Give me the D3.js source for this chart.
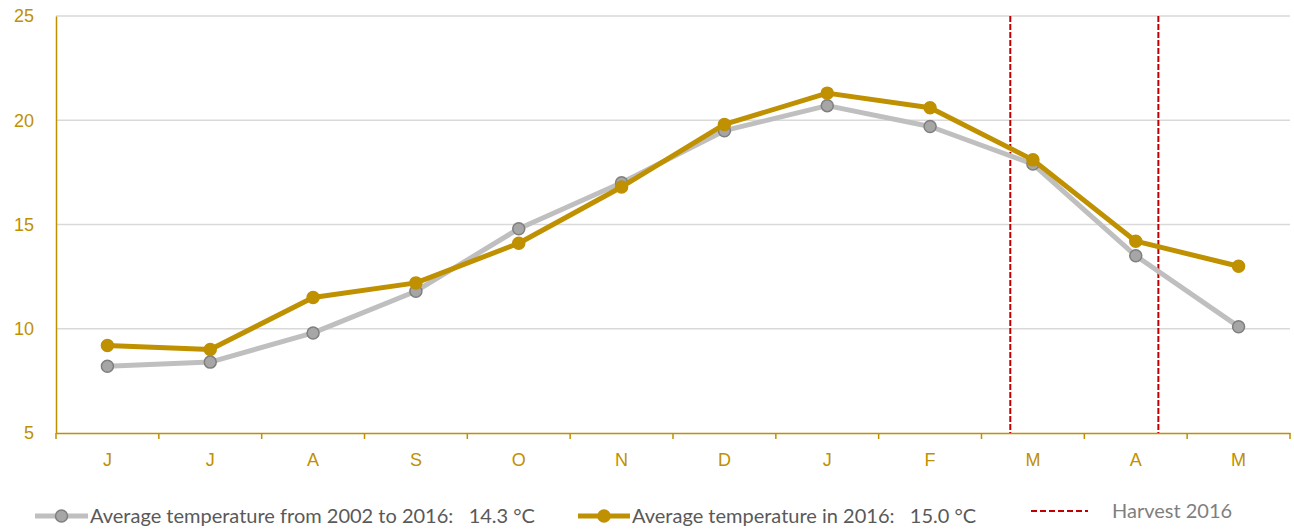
<!DOCTYPE html>
<html>
<head>
<meta charset="utf-8">
<script src="https://cdn.jsdelivr.net/npm/d3@7"></script>
<style>
  body { margin: 0; background: #fff; }
  svg { font-family: Lato, "Open Sans", sans-serif; }
</style>
</head>
<body>
<svg id="chart" width="1294" height="529"></svg>
<script>
// month labels, June 2015 to May 2016
const months = ['J', 'J', 'A', 'S', 'O', 'N', 'D', 'J', 'F', 'M', 'A', 'M'];
// monthly average temperatures (°C)
const avgLongTerm = [8.2, 8.4, 9.8, 11.8, 14.8, 17.0, 19.5, 20.7, 19.7, 17.9, 13.5, 10.1];
const avg2016 = [9.2, 9.0, 11.5, 12.2, 14.1, 16.8, 19.8, 21.3, 20.6, 18.1, 14.2, 13.0];
// harvest window, in month units from the start of the axis
const harvest = [9.28, 10.72];
const yTicks = [5, 10, 15, 20, 25];

const gold = '#BF9000';
const svg = d3.select('#chart');
const plotL = 56, plotR = 1290, plotT = 16, plotB = 433;

const x = d3.scaleBand().domain(d3.range(months.length)).range([plotL, plotR]);
const xPos = d3.scaleLinear().domain([0, months.length]).range([plotL, plotR]);
const y = d3.scaleLinear().domain([5, 25]).range([plotB, plotT]);

// gridlines
svg.append('g')
  .selectAll('line')
  .data(yTicks.filter(d => d > 5))
  .enter().append('line')
  .attr('x1', plotL).attr('x2', plotR)
  .attr('y1', d => y(d)).attr('y2', d => y(d))
  .attr('stroke', '#d9d9d9').attr('stroke-width', 1.5);

// y axis
const yAxis = svg.append('g')
  .attr('transform', `translate(${plotL},0)`)
  .call(d3.axisLeft(y).tickValues(yTicks).tickSize(0).tickPadding(22));
yAxis.select('.domain').attr('stroke', gold).attr('stroke-width', 1.5);
yAxis.selectAll('text').attr('fill', gold).style('font-size', '18px');

// x axis with ticks between categories
const xAxis = svg.append('g')
  .attr('transform', `translate(0,${plotB})`)
  .call(d3.axisBottom(x).tickFormat(i => months[i]).tickSize(0).tickPadding(20));
xAxis.select('.domain').attr('stroke', gold).attr('stroke-width', 1.5);
xAxis.selectAll('text').attr('fill', gold).style('font-size', '18px');
xAxis.selectAll('.sep')
  .data(d3.range(months.length + 1))
  .enter().append('line')
  .attr('x1', d => xPos(d)).attr('x2', d => xPos(d))
  .attr('y1', 0).attr('y2', 6)
  .attr('stroke', gold).attr('stroke-width', 1.5);

// harvest lines
svg.append('g')
  .selectAll('line')
  .data(harvest)
  .enter().append('line')
  .attr('x1', d => xPos(d)).attr('x2', d => xPos(d))
  .attr('y1', plotT).attr('y2', plotB)
  .attr('stroke', '#C00000').attr('stroke-width', 2)
  .attr('stroke-dasharray', '6,2');

const line = d3.line()
  .x((d, i) => x(i) + x.bandwidth() / 2)
  .y(d => y(d));

function drawSeries(values, lineColor, fill, stroke) {
  const g = svg.append('g');
  g.append('path')
    .datum(values)
    .attr('d', line)
    .attr('fill', 'none')
    .attr('stroke', lineColor)
    .attr('stroke-width', 5)
    .attr('stroke-linejoin', 'round');
  g.selectAll('circle')
    .data(values)
    .enter().append('circle')
    .attr('cx', (d, i) => x(i) + x.bandwidth() / 2)
    .attr('cy', d => y(d))
    .attr('r', 6)
    .attr('fill', fill)
    .attr('stroke', stroke)
    .attr('stroke-width', 1.5);
}

drawSeries(avgLongTerm, '#BFBFBF', '#A6A6A6', '#7F7F7F');
drawSeries(avg2016, gold, gold, gold);

// legend
const legend = svg.append('g').style('font-size', '20px');
const ly = 516;

function legendMarker(x0, x1, lineColor, fill, stroke) {
  legend.append('line')
    .attr('x1', x0).attr('x2', x1).attr('y1', ly).attr('y2', ly)
    .attr('stroke', lineColor).attr('stroke-width', 5);
  legend.append('circle')
    .attr('cx', (x0 + x1) / 2).attr('cy', ly).attr('r', 6)
    .attr('fill', fill).attr('stroke', stroke).attr('stroke-width', 1.5);
}

legendMarker(35, 88, '#BFBFBF', '#A6A6A6', '#7F7F7F');
legend.append('text').attr('x', 90).attr('y', ly).attr('dy', '0.35em')
  .attr('fill', '#595959').attr('xml:space', 'preserve')
  .text('Average temperature from 2002 to 2016:   14.3 °C');

legendMarker(578, 630, gold, gold, gold);
legend.append('text').attr('x', 632).attr('y', ly).attr('dy', '0.35em')
  .attr('fill', '#595959').attr('xml:space', 'preserve')
  .text('Average temperature in 2016:   15.0 °C');

legend.append('line')
  .attr('x1', 1031).attr('x2', 1088).attr('y1', 511).attr('y2', 511)
  .attr('stroke', '#C00000').attr('stroke-width', 2)
  .attr('stroke-dasharray', '6,3');
legend.append('text').attr('x', 1112).attr('y', 511).attr('dy', '0.35em')
  .attr('fill', '#7F7F7F')
  .text('Harvest 2016');
</script>
</body>
</html>
